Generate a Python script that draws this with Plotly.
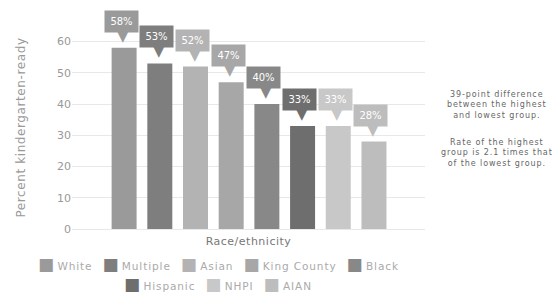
import plotly.graph_objects as go

categories = ["White", "Multiple", "Asian", "King County", "Black", "Hispanic", "NHPI", "AIAN"]
values = [58, 53, 52, 47, 40, 33, 33, 28]
colors = ["#9a9a9a", "#7e7e7e", "#b3b3b3", "#a7a7a7", "#888888", "#6e6e6e", "#c8c8c8", "#bdbdbd"]
label_texts = ["58%", "53%", "52%", "47%", "40%", "33%", "33%", "28%"]
legend_rows = [["White", "Multiple", "Asian", "King County", "Black"], ["Hispanic", "NHPI", "AIAN"]]
note1 = "39-point difference<br>between the highest<br>and lowest group."
note2 = "Rate of the highest<br>group is 2.1 times that<br>of the lowest group."
y_title = "Percent kindergarten-ready"
x_title = "Race/ethnicity"

FONT = "DejaVu Sans, Verdana, sans-serif"
W, H = 555, 293
pl, pr, pt, pb = 72, 130, 26, 64
pw, ph = W - pl - pr, H - pt - pb


def px_to_paper(xp, yp):
    return (xp - pl) / pw, (H - pb - yp) / ph


def spaced(text, ls):
    return '<span style="letter-spacing:%spx">%s</span>' % (ls, text)


fig = go.Figure()
for cat, val, col in zip(categories, values, colors):
    fig.add_trace(go.Bar(x=[cat], y=[val], name=cat, marker=dict(color=col, line=dict(width=0)),
                         width=0.7, hoverinfo="skip", showlegend=False))

annotations = []
for cat, val, col, txt in zip(categories, values, colors, label_texts):
    annotations.append(dict(x=cat, y=val, xref="x", yref="y", text="▼", showarrow=False,
                            yanchor="bottom", yshift=1, xshift=-1,
                            font=dict(size=15, color=col, family="DejaVu Sans")))
    annotations.append(dict(x=cat, y=val, xref="x", yref="y", text=txt, showarrow=False,
                            yanchor="bottom", yshift=15, xshift=-3, width=33, height=21, borderpad=0,
                            bgcolor=col, font=dict(size=10, color="white", family=FONT)))

nx1, ny1 = px_to_paper(497, 105)
nx2, ny2 = px_to_paper(497, 153)
for nx, ny, nt in [(nx1, ny1, note1), (nx2, ny2, note2)]:
    annotations.append(dict(x=nx, y=ny, xref="paper", yref="paper", showarrow=False, align="center",
                            xanchor="center", yanchor="middle",
                            text="<br>".join(spaced(s, 0.9) for s in nt.split("<br>")),
                            font=dict(size=8, color="#666", family=FONT)))

color_of = dict(zip(categories, colors))
for row, yp in zip(legend_rows, [264, 284]):
    parts = []
    for name in row:
        parts.append('<span style="color:%s;font-size:17px">■</span>&nbsp;%s' % (color_of[name], spaced(name, 0.9)))
    lx, ly = px_to_paper(218, yp)
    annotations.append(dict(x=lx, y=ly, xref="paper", yref="paper", showarrow=False,
                            xanchor="center", yanchor="middle",
                            text="&nbsp;&nbsp;&nbsp;".join(parts),
                            font=dict(size=10.5, color="#aaa", family=FONT)))

fig.update_layout(
    width=W, height=H,
    margin=dict(l=pl, r=pr, t=pt, b=pb, autoexpand=False),
    plot_bgcolor="white", paper_bgcolor="white",
    barmode="overlay",
    showlegend=False,
    font=dict(family=FONT, color="#888"),
    annotations=annotations,
    xaxis=dict(type="category", categoryorder="array", categoryarray=categories,
               range=[-1.46, 8.43], showticklabels=False, showgrid=False, zeroline=False,
               title=dict(text=spaced(x_title, 0.5), font=dict(size=11, color="#777"), standoff=8)),
    yaxis=dict(range=[0, 65], dtick=10, showgrid=True, gridcolor="#e8e8e8", gridwidth=1,
               zeroline=True, zerolinecolor="#e8e8e8", zerolinewidth=1,
               tickfont=dict(size=11, color="#999"),
               title=dict(text=spaced(y_title, 0.6), font=dict(size=12, color="#999"), standoff=28)),
)

fig.write_html("out.html", config={"displayModeBar": False},
               post_script="document.body.style.margin='0';")
